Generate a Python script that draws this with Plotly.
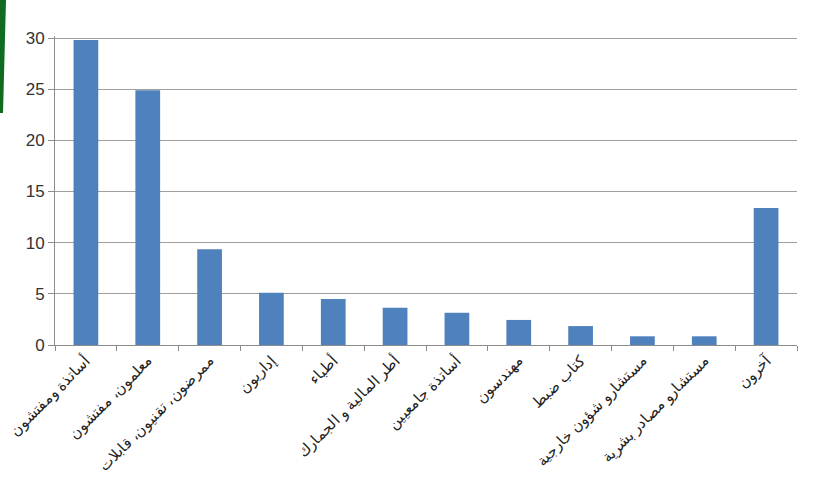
import plotly.graph_objects as go

categories = [
    "أساتذة ومفتشون",
    "معلمون، مفتشون",
    "ممرضون، تقنيون، قابلات",
    "إداريون",
    "أطباء",
    "أطر المالية و الجمارك",
    "أساتذة جامعيين",
    "مهندسون",
    "كتاب ضبط",
    "مستشارو شؤون خارجية",
    "مستشارو مصادر بشرية",
    "آخرون",
]
values = [29.8, 24.9, 9.35, 5.1, 4.5, 3.65, 3.15, 2.45, 1.85, 0.85, 0.85, 13.4]
y_ticks = [0, 5, 10, 15, 20, 25, 30]

W, H = 836, 493
L, R, T, B = 55, 39, 36, 148

fig = go.Figure(go.Bar(
    x=categories, y=values,
    marker=dict(color="#4f81bd", line=dict(width=0)),
    width=0.4,
))

pw = W - L - R
ph = H - T - B
def px_x(p):
    return (p - L) / pw
def px_y(p):
    return (H - B - p) / ph

fig.add_shape(
    type="path", xref="paper", yref="paper",
    path=f"M {px_x(0)},{px_y(0)} L {px_x(6)},{px_y(0)} L {px_x(3)},{px_y(113)} L {px_x(0)},{px_y(113)} Z",
    fillcolor="#0f6b22", line=dict(width=0), layer="above",
)

fig.update_layout(
    width=W, height=H,
    margin=dict(l=L, r=R, t=T, b=B, autoexpand=False),
    paper_bgcolor="white", plot_bgcolor="white",
    showlegend=False,
    font=dict(family="Liberation Sans, Arial, sans-serif", color="#333333"),
    xaxis=dict(
        tickangle=-45,
        tickson="boundaries",
        ticks="outside", ticklen=5, tickcolor="#8c8c8c",
        showline=True, linecolor="#8c8c8c", linewidth=1,
        showgrid=False,
        tickfont=dict(size=15, color="#222222"),
        automargin=False,
    ),
    yaxis=dict(
        range=[0, 30.2],
        tickvals=y_ticks,
        ticks="outside", ticklen=6, tickcolor="#8c8c8c",
        showline=True, linecolor="#8c8c8c", linewidth=1,
        showgrid=True, gridcolor="#a0a0a0", gridwidth=1,
        zeroline=False,
        tickfont=dict(size=17, color="#333333"),
        automargin=False,
    ),
)

fig.write_html(
    "out.html",
    config={"displayModeBar": False},
    post_script="document.body.style.margin='0';",
)
